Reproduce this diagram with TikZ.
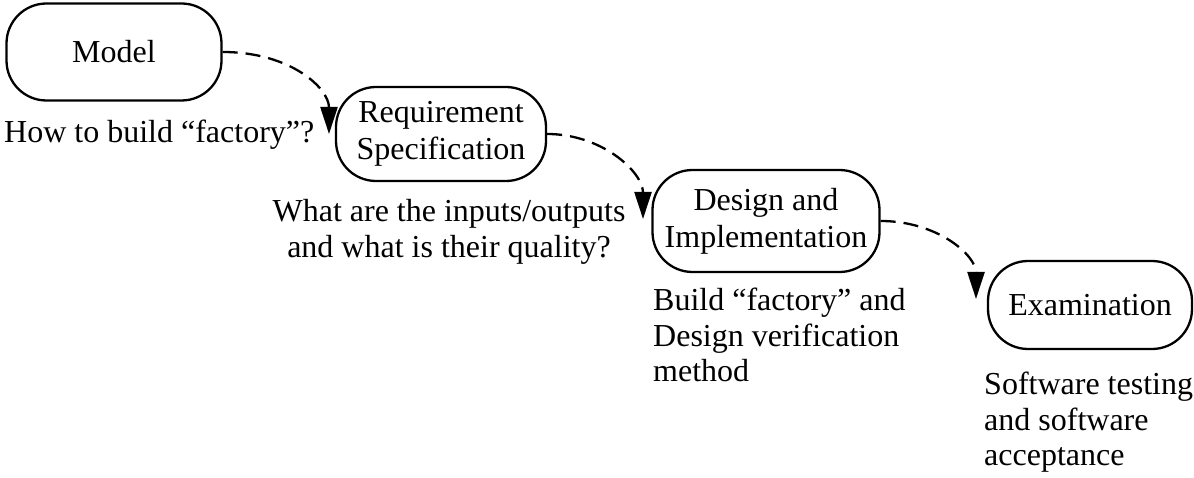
\documentclass[tikz,border=0pt]{standalone}
\usepackage{fontspec}
\setmainfont{Liberation Serif}
\usetikzlibrary{arrows.meta}
\begin{document}
\begin{tikzpicture}[x=1pt,y=-1pt,
  stage/.style={draw, line width=2.3pt, rounded corners=40pt, inner sep=0pt, align=center,
    font=\fontsize{32}{37}\selectfont},
  note/.style={inner sep=0pt, font=\fontsize{32}{35.5}\selectfont},
  flow/.style={line width=2.3pt, dash pattern=on 15pt off 8pt,
    -{Triangle[length=27pt,width=17pt]}}]
\useasboundingbox (0,0) rectangle (1194,478);

% process stages
\node[stage, minimum width=215pt, minimum height=97pt] (model) at (114,52) {Model};
\node[stage, minimum width=210pt, minimum height=94pt] (req) at (441,134) {Requirement\\Specification};
\node[stage, minimum width=227pt, minimum height=102pt] (des) at (766,221) {Design and\\Implementation};
\node[stage, minimum width=204pt, minimum height=88pt] (exa) at (1090,305) {Examination};

% questions answered by each stage
\node[note, anchor=west] (q1) at (4,135) {How to build ``factory''?};
\node[note, align=center] (q2) at (449,232) {What are the inputs/outputs\\and what is their quality?};
\node[note, align=left, anchor=north west] (q3) at (653,288) {Build ``factory'' and\\Design verification\\method};
\node[note, align=left, anchor=north west] (q4) at (984,372) {Software testing\\and software\\acceptance};

% arrow tips beside the next stage
\coordinate (t1) at (329,134);
\coordinate (t2) at (643,219);
\coordinate (t3) at (976,299);

\draw[flow] (model.east) .. controls (290,52) and (329,88) .. (t1);
\draw[flow] (req.east) .. controls (602,134) and (643,172) .. (t2);
\draw[flow] (des.east) .. controls (937,221) and (976,255) .. (t3);
\end{tikzpicture}
\end{document}
